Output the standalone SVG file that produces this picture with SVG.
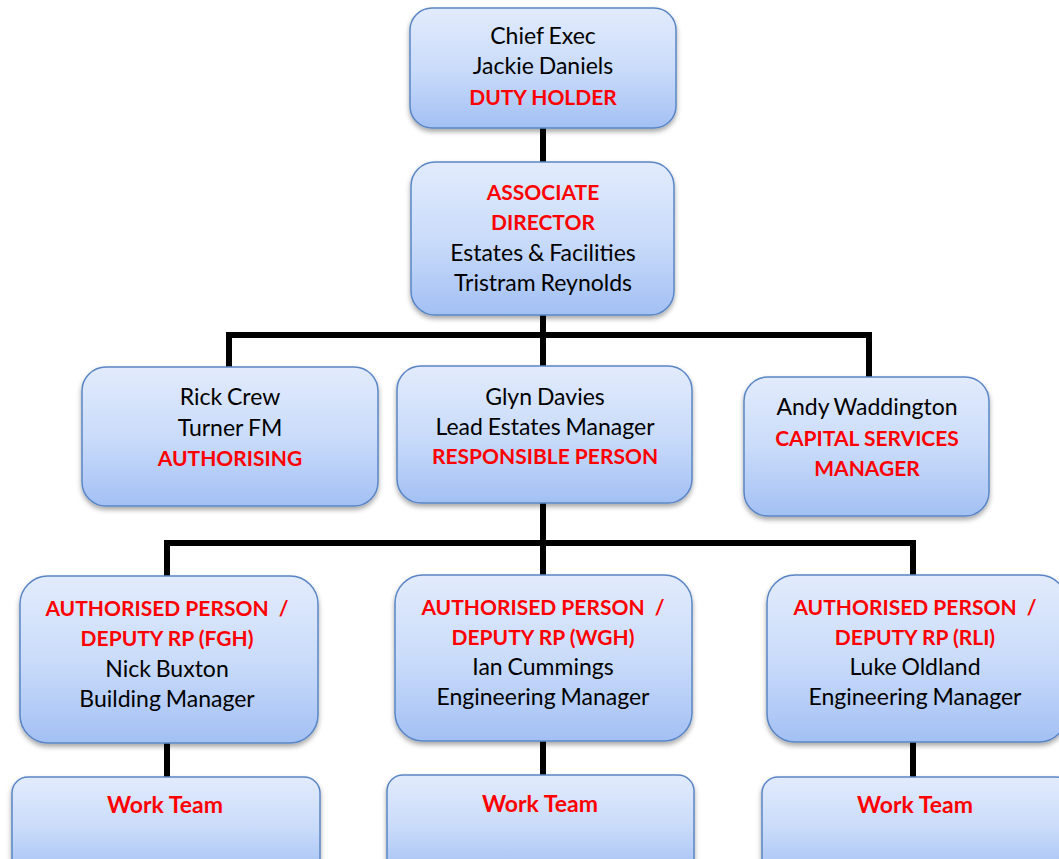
<svg xmlns="http://www.w3.org/2000/svg" width="1059" height="859" viewBox="0 0 1059 859">
<defs>
<linearGradient id="g" x1="0" y1="0" x2="0" y2="1">
<stop offset="0" stop-color="#e2ebfc"/>
<stop offset="0.5" stop-color="#cadcfa"/>
<stop offset="1" stop-color="#a3c0f4"/>
</linearGradient>
<filter id="sh" x="-10%" y="-10%" width="120%" height="130%">
<feDropShadow dx="0" dy="3" stdDeviation="2.5" flood-color="#000" flood-opacity="0.35"/>
</filter>
</defs>
<style>
.box{fill:url(#g);stroke:#5a86c5;stroke-width:1.5;filter:url(#sh)}
.t{font-family:Lato,"Open Sans","Liberation Sans",sans-serif;font-size:23px;fill:#000;text-anchor:middle;word-spacing:-1px}
.r{fill:#ff0000;font-weight:bold;font-size:21px;word-spacing:0}
.w{font-size:23px}
.c{fill:none;stroke:#000;stroke-width:6;stroke-linejoin:miter}
</style>
<g id="connectors">
<path class="c" d="M543 128V162"/>
<path class="c" d="M543 315V366M229 367V335H869V377"/>
<path class="c" d="M543 503V575M167 576V543H913V575"/>
<path class="c" d="M167 743V777M543 741V775M913 741V777"/>
</g>
<g id="chief">
<rect class="box" x="410" y="8" width="266" height="120" rx="22"/>
<text class="t" x="543" y="44">Chief Exec</text>
<text class="t" x="543" y="74">Jackie Daniels</text>
<text class="t r" x="543" y="105">DUTY HOLDER</text>
</g>
<g id="assoc">
<rect class="box" x="411" y="162" width="263" height="153" rx="24"/>
<text class="t r" x="543" y="200">ASSOCIATE</text>
<text class="t r" x="543" y="230">DIRECTOR</text>
<text class="t" x="543" y="261">Estates &amp; Facilities</text>
<text class="t" x="543" y="291">Tristram Reynolds</text>
</g>
<g id="rick">
<rect class="box" x="82" y="367" width="296" height="139" rx="24"/>
<text class="t" x="230" y="405">Rick Crew</text>
<text class="t" x="230" y="436">Turner FM</text>
<text class="t r" x="230" y="466">AUTHORISING</text>
</g>
<g id="glyn">
<rect class="box" x="397" y="366" width="295" height="137" rx="24"/>
<text class="t" x="545" y="405">Glyn Davies</text>
<text class="t" x="545" y="435">Lead Estates Manager</text>
<text class="t r" x="545" y="464">RESPONSIBLE PERSON</text>
</g>
<g id="andy">
<rect class="box" x="744" y="377" width="245" height="139" rx="24"/>
<text class="t" x="867" y="415">Andy Waddington</text>
<text class="t r" x="867" y="446">CAPITAL SERVICES</text>
<text class="t r" x="867" y="476">MANAGER</text>
</g>
<g id="fgh">
<rect class="box" x="20" y="576" width="298" height="167" rx="28"/>
<text class="t r" x="167" y="616">AUTHORISED PERSON &#160;/</text>
<text class="t r" x="167" y="646">DEPUTY RP (FGH)</text>
<text class="t" x="167" y="677">Nick Buxton</text>
<text class="t" x="167" y="707">Building Manager</text>
</g>
<g id="wgh">
<rect class="box" x="395" y="575" width="297" height="166" rx="28"/>
<text class="t r" x="543" y="615">AUTHORISED PERSON &#160;/</text>
<text class="t r" x="543" y="645">DEPUTY RP (WGH)</text>
<text class="t" x="543" y="675">Ian Cummings</text>
<text class="t" x="543" y="705">Engineering Manager</text>
</g>
<g id="rli">
<rect class="box" x="767" y="575" width="300" height="167" rx="28"/>
<text class="t r" x="915" y="615">AUTHORISED PERSON &#160;/</text>
<text class="t r" x="915" y="645">DEPUTY RP (RLI)</text>
<text class="t" x="915" y="675">Luke Oldland</text>
<text class="t" x="915" y="705">Engineering Manager</text>
</g>
<g id="team1">
<rect class="box" x="12" y="777" width="308" height="100" rx="16"/>
<text class="t r w" x="165" y="813">Work Team</text>
</g>
<g id="team2">
<rect class="box" x="387" y="775" width="307" height="100" rx="16"/>
<text class="t r w" x="540" y="812">Work Team</text>
</g>
<g id="team3">
<rect class="box" x="762" y="777" width="310" height="100" rx="16"/>
<text class="t r w" x="915" y="813">Work Team</text>
</g>
</svg>
